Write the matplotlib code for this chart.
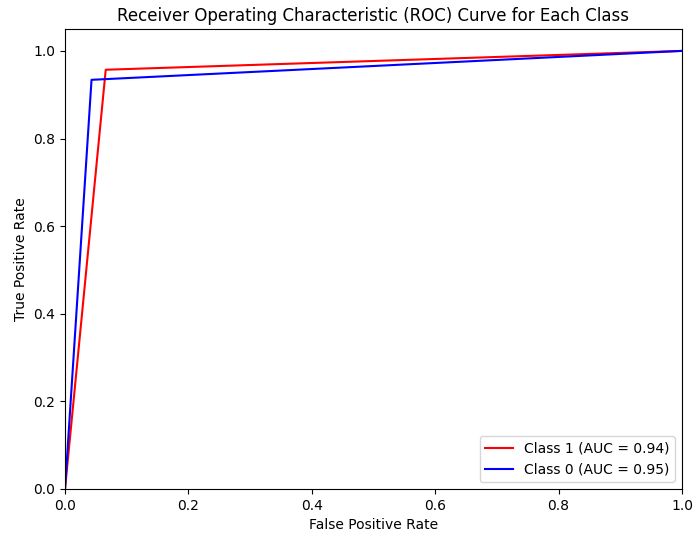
import matplotlib
matplotlib.use("Agg")
import matplotlib.pyplot as plt

fpr_class1 = [0.0, 0.066, 1.0]
tpr_class1 = [0.0, 0.957, 1.0]
fpr_class0 = [0.0, 0.043, 1.0]
tpr_class0 = [0.0, 0.934, 1.0]
labels = ["Class 1 (AUC = 0.94)", "Class 0 (AUC = 0.95)"]
colors = ["red", "blue"]

fig = plt.figure(figsize=(6.93, 5.34), dpi=100)
ax = fig.add_axes([0.0938, 0.0843, 0.8903, 0.8614])
ax.plot(fpr_class1, tpr_class1, color=colors[0], label=labels[0])
ax.plot(fpr_class0, tpr_class0, color=colors[1], label=labels[1])
ax.set_xlim(0.0, 1.0)
ax.set_ylim(0.0, 1.05)
ax.set_xlabel("False Positive Rate")
ax.set_ylabel("True Positive Rate")
ax.set_title("Receiver Operating Characteristic (ROC) Curve for Each Class")
ax.legend(loc="lower right")
fig.savefig("out.png", dpi=100)
